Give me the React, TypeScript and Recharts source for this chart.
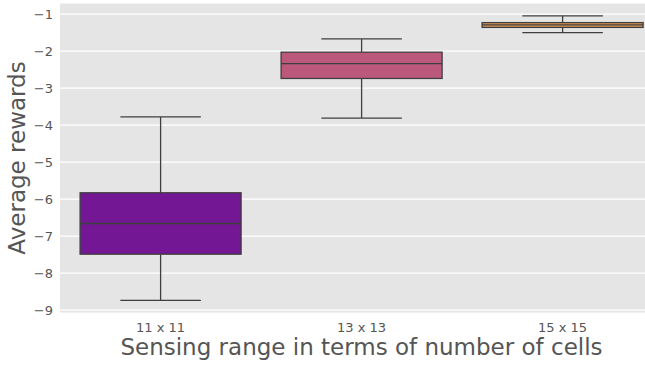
import React from 'react';
import { ComposedChart, Bar, XAxis, YAxis, CartesianGrid, Label } from 'recharts';

const categories = ['11 x 11', '13 x 13', '15 x 15'];
const whiskerLow = [-8.74, -3.81, -1.5];
const q1 = [-7.49, -2.74, -1.36];
const median = [-6.66, -2.34, -1.29];
const q3 = [-5.83, -2.03, -1.23];
const whiskerHigh = [-3.78, -1.67, -1.05];
const boxColors = ['#731794', '#BB587C', '#E19757'];
const yTicks = [-1, -2, -3, -4, -5, -6, -7, -8, -9];

const data = categories.map((name, i) => ({
  name,
  range: [whiskerLow[i], whiskerHigh[i]],
  lo: whiskerLow[i],
  q1: q1[i],
  med: median[i],
  q3: q3[i],
  hi: whiskerHigh[i],
  color: boxColors[i],
}));

const EDGE = '#3f3f3f';
const FONT = '"DejaVu Sans", sans-serif';

const BoxShape = (props: any) => {
  const { x, y, width, height, payload } = props;
  const top = Math.min(y, y + height);
  const bottom = Math.max(y, y + height);
  const { lo, hi } = payload;
  // map values onto the pixel span that the library gave the whisker range
  const toY = (v: number) => top + ((hi - v) / (hi - lo)) * (bottom - top);
  const cx = x + width / 2;
  const capHalf = width / 4;
  const yQ1 = toY(payload.q1);
  const yQ3 = toY(payload.q3);
  const yMed = toY(payload.med);
  return (
    <g>
      <line x1={cx} x2={cx} y1={top} y2={yQ3} stroke={EDGE} strokeWidth={1.3} />
      <line x1={cx} x2={cx} y1={yQ1} y2={bottom} stroke={EDGE} strokeWidth={1.3} />
      <line x1={cx - capHalf} x2={cx + capHalf} y1={top} y2={top} stroke={EDGE} strokeWidth={1.3} />
      <line x1={cx - capHalf} x2={cx + capHalf} y1={bottom} y2={bottom} stroke={EDGE} strokeWidth={1.3} />
      <rect x={x} y={yQ3} width={width} height={yQ1 - yQ3} fill={payload.color} stroke={EDGE} strokeWidth={1.3} />
      <line x1={x} x2={x + width} y1={yMed} y2={yMed} stroke={EDGE} strokeWidth={1.3} />
    </g>
  );
};

const YLabel = (props: any) => {
  const vb = props.viewBox;
  const cy = vb.y + vb.height / 2;
  return (
    <text
      x={0}
      y={0}
      transform={`translate(25, ${cy}) rotate(-90)`}
      textAnchor="middle"
      fill="#555555"
      fontSize={23}
      fontFamily={FONT}
    >
      Average rewards
    </text>
  );
};

const fmt = (v: number) => String(v).replace('-', '\u2212');

export default function App() {
  return (
    <div style={{ position: 'absolute', left: 0, top: 0, width: 645, height: 366, overflow: 'hidden', background: '#fff' }}>
      <ComposedChart
        width={680}
        height={366}
        data={data}
        margin={{ top: 3, right: 17, bottom: 0, left: 0 }}
        barCategoryGap="10%"
      >
        <CartesianGrid fill="#E5E5E5" stroke="#ffffff" strokeWidth={1.2} vertical={false} />
        <XAxis
          dataKey="name"
          height={53}
          tickLine={false}
          axisLine={false}
          tickMargin={4}
          tick={{ fill: '#555555', fontSize: 13, fontFamily: FONT }}
        >
          <Label
            value="Sensing range in terms of number of cells"
            position="insideBottom"
            offset={11}
            fill="#555555"
            fontSize={23}
            fontFamily={FONT}
          />
        </XAxis>
        <YAxis
          width={60}
          domain={[-9.08, -0.7]}
          ticks={yTicks}
          tickFormatter={fmt}
          tickLine={false}
          axisLine={false}
          tickMargin={1}
          tick={{ fill: '#555555', fontSize: 13, fontFamily: FONT }}
        >
          <Label content={<YLabel />} />
        </YAxis>
        <Bar dataKey="range" shape={<BoxShape />} isAnimationActive={false} />
      </ComposedChart>
    </div>
  );
}
